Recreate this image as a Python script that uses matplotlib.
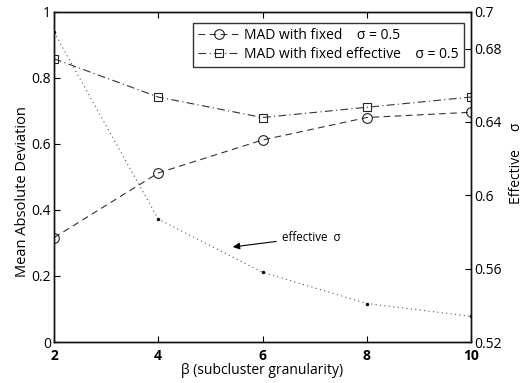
import matplotlib
matplotlib.use("Agg")
import matplotlib.pyplot as plt
from matplotlib.ticker import FixedLocator, FixedFormatter

plt.rcParams["font.family"] = ["Open Sans", "DejaVu Sans"]

beta = [2, 4, 6, 8, 10]
mad_fixed = [0.316, 0.512, 0.612, 0.68, 0.696]
mad_fixed_eff = [0.858, 0.742, 0.68, 0.711, 0.742]
eff_sigma = [0.689, 0.587, 0.558, 0.541, 0.534]

left_ticks = [0, 0.2, 0.4, 0.6, 0.8, 1]
left_labels = ["0", "0.2", "0.4", "0.6", "0.8", "1"]
right_ticks = [0.52, 0.56, 0.6, 0.64, 0.68, 0.7]
right_labels = ["0.52", "0.56", "0.6", "0.64", "0.68", "0.7"]

fig = plt.figure(figsize=(5.24, 3.83), dpi=100)
ax = fig.add_axes([0.103, 0.107, 0.796, 0.862])
ax2 = ax.twinx()

c = "#333333"
ax.plot(beta, mad_fixed, linestyle=(0, (6, 4)), color=c, lw=0.8,
        marker="o", mfc="none", mec="#222222", ms=7, mew=0.8,
        label="MAD with fixed    σ = 0.5")
ax.plot(beta, mad_fixed_eff, linestyle=(0, (7, 3, 1, 3)), color=c, lw=0.8,
        marker="s", mfc="none", mec="#222222", ms=6, mew=0.8,
        label="MAD with fixed effective    σ = 0.5")
ax2.plot(beta, eff_sigma, linestyle=(0, (1, 3)), color="#555555", lw=0.8,
         marker=".", ms=3, mfc="#111111", mec="#111111")

ax.set_xlim(2, 10)
ax.set_ylim(0, 1)
ax2.set_ylim(0.52, 0.7)

ax.set_xticks(beta)
ax.set_xticklabels([str(b) for b in beta], fontweight="bold", fontsize=10)
ax.yaxis.set_major_locator(FixedLocator(left_ticks))
ax.yaxis.set_major_formatter(FixedFormatter(left_labels))
ax2.yaxis.set_major_locator(FixedLocator(right_ticks))
ax2.yaxis.set_major_formatter(FixedFormatter(right_labels))

ax.tick_params(axis="x", direction="in", top=True, length=4, width=0.8, pad=5)
ax.tick_params(axis="y", direction="in", length=4, width=0.8, labelsize=10, pad=2)
ax2.tick_params(axis="y", direction="in", length=4, width=0.8, labelsize=10, pad=2)

for a in (ax, ax2):
    for s in a.spines.values():
        s.set_linewidth(1.0)
        s.set_color("#111111")

ax.set_xlabel("β (subcluster granularity)", fontsize=10, labelpad=0)
ax.set_ylabel("Mean Absolute Deviation", fontsize=10.5)
ax.yaxis.set_label_coords(-0.058, 0.455)
ax2.set_ylabel("Effective     σ", fontsize=10)
ax2.yaxis.set_label_coords(1.092, 0.54)

leg = ax.legend(loc="upper right", bbox_to_anchor=(0.982, 0.966), fontsize=10,
                frameon=True, fancybox=False, handlelength=3.0,
                borderpad=0.35, labelspacing=0.3, handletextpad=0.3,
                borderaxespad=0)
leg.get_frame().set_edgecolor("black")
leg.get_frame().set_linewidth(1.0)

ax.annotate("effective  σ", xy=(5.43, 0.288), xytext=(6.37, 0.318),
            fontsize=8.3, va="center", ha="left",
            arrowprops=dict(arrowstyle="-|>", color="black", lw=0.8,
                            mutation_scale=10, shrinkA=2, shrinkB=0))

fig.savefig("out.png", dpi=100)
